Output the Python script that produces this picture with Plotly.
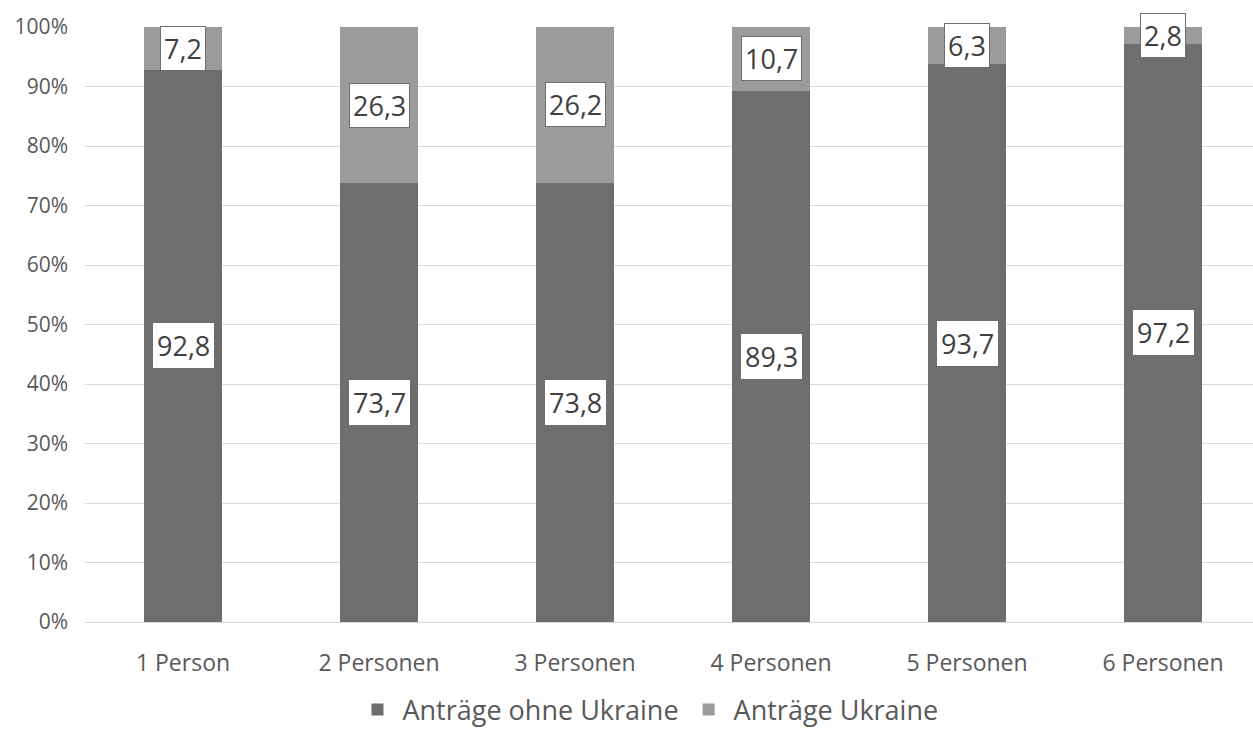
import plotly.graph_objects as go

categories = ["1 Person", "2 Personen", "3 Personen", "4 Personen", "5 Personen", "6 Personen"]
ohne_ukraine = [92.8, 73.7, 73.8, 89.3, 93.7, 97.2]
ukraine = [7.2, 26.3, 26.2, 10.7, 6.3, 2.8]
series_names = ["Anträge ohne Ukraine", "Anträge Ukraine"]
tick_vals = [0, 10, 20, 30, 40, 50, 60, 70, 80, 90, 100]
tick_text = [f"{v}%" for v in tick_vals]

dark = "#6e6e6e"
light = "#9b9b9b"
font_family = "Open Sans, Noto Sans, sans-serif"

fig = go.Figure()
fig.add_trace(go.Bar(x=categories, y=ohne_ukraine, name=series_names[0],
                     marker=dict(color=dark, line=dict(width=0))))
fig.add_trace(go.Bar(x=categories, y=ukraine, name=series_names[1],
                     marker=dict(color=light, line=dict(width=0))))

def fmt(v):
    return f"{v:.1f}".replace(".", ",")

annotations = []
for c, a, b in zip(categories, ohne_ukraine, ukraine):
    annotations.append(dict(x=c, y=a / 2, xref="x", yref="y", text=fmt(a), showarrow=False,
                            font=dict(size=27, color="#404040", family=font_family),
                            bgcolor="white", borderpad=4, borderwidth=0))
    annotations.append(dict(x=c, y=a + b / 2, xref="x", yref="y", text=fmt(b), showarrow=False,
                            font=dict(size=27, color="#404040", family=font_family),
                            bgcolor="white", bordercolor="#6e6e6e", borderwidth=1, borderpad=3))

fig.update_layout(
    barmode="stack",
    bargap=0.6,
    width=1253, height=731,
    margin=dict(l=85, r=0, t=27, b=109, autoexpand=False),
    plot_bgcolor="white", paper_bgcolor="white",
    font=dict(family=font_family, color="#595959"),
    xaxis=dict(range=[-0.5, 5.459], tickfont=dict(size=23, color="#595959"),
               showline=True, linecolor="#d9d9d9", linewidth=1, ticks="", ticklabelstandoff=20),
    yaxis=dict(range=[0, 100], tickvals=tick_vals, ticktext=tick_text, showgrid=True,
               gridcolor="#d9d9d9", gridwidth=1, tickfont=dict(size=21, color="#595959"),
               zeroline=False, ticklabelstandoff=16),
    legend=dict(orientation="h", xref="paper", yref="paper", x=0.482, xanchor="center",
                y=-0.148, yanchor="middle", font=dict(size=27, color="#595959"),
                itemwidth=40, traceorder="normal"),
    annotations=annotations,
)

fig.write_html("out.html")
